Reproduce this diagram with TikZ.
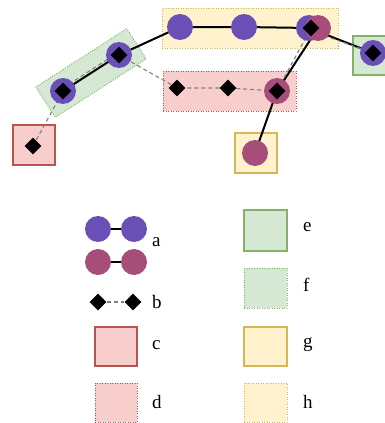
\documentclass[tikz,border=0pt]{standalone}
\usepackage{fontspec}
\setmainfont{Liberation Serif}
\usetikzlibrary{shapes.geometric}
\definecolor{pur}{HTML}{6A50B6}
\definecolor{mag}{HTML}{A64D79}
\definecolor{gfill}{HTML}{D5E8D4}
\definecolor{gline}{HTML}{82B366}
\definecolor{rfill}{HTML}{F8CECC}
\definecolor{rline}{HTML}{B85450}
\definecolor{yfill}{HTML}{FFF2CC}
\definecolor{yline}{HTML}{D6B656}
\pgfdeclarelayer{bg}\pgfdeclarelayer{edges}\pgfsetlayers{bg,edges,main}
\tikzset{
 pc/.style={circle, fill=pur, minimum size=26pt, inner sep=0pt},
 mc/.style={circle, fill=mag, minimum size=26pt, inner sep=0pt},
 dia/.style={diamond, fill=black, minimum size=17pt, inner sep=0pt},
 solidbox/.style={rectangle, line width=1.3pt, inner sep=0pt},
 dotbox/.style={rectangle, line width=1pt, dash pattern=on 1pt off 1.5pt, inner sep=0pt},
 sol/.style={line width=2pt, black},
 dsh/.style={line width=1.1pt, black!50, dash pattern=on 4pt off 3pt},
 lab/.style={font=\fontsize{19}{21}\selectfont, anchor=west, inner sep=0pt}
}
\begin{document}
\begin{tikzpicture}[x=1pt,y=-1pt]
\useasboundingbox (0,0) rectangle (385,423);
\begin{pgfonlayer}{bg}
\node[dotbox, draw=yline, fill=yfill, minimum width=176pt, minimum height=40pt] (hbig) at (250,28) {};
\node[dotbox, draw=rline, fill=rfill, minimum width=133pt, minimum height=40pt] (dbig) at (229.5,91) {};
\node[dotbox, draw=gline, fill=gfill, minimum width=108pt, minimum height=36pt, rotate=32.7] (fbig) at (91,73) {};
\node[solidbox, draw=gline, fill=gfill, minimum width=42pt, minimum height=39pt] (ebig) at (374,55.5) {};
\node[solidbox, draw=rline, fill=rfill, minimum width=42pt, minimum height=40pt] (cbig) at (34,145) {};
\node[solidbox, draw=yline, fill=yfill, minimum width=42pt, minimum height=40pt] (gbig) at (256,153) {};
% legend boxes
\node[solidbox, draw=gline, fill=gfill, minimum width=43pt, minimum height=41pt] (le) at (265.5,230.5) {};
\node[dotbox, draw=gline, fill=gfill, minimum width=43pt, minimum height=40pt] (lf) at (265.5,288) {};
\node[solidbox, draw=yline, fill=yfill, minimum width=43pt, minimum height=39pt] (lg) at (265.5,346.5) {};
\node[dotbox, draw=yline, fill=yfill, minimum width=43pt, minimum height=39pt] (lh) at (265.5,402.5) {};
\node[solidbox, draw=rline, fill=rfill, minimum width=42pt, minimum height=39pt] (lc) at (116,346.5) {};
\node[dotbox, draw=rline, fill=rfill, minimum width=42pt, minimum height=39pt] (ld) at (116,402.5) {};
\end{pgfonlayer}
% circles
\node[pc] (p1) at (63,91) {};
\node[pc] (p2) at (119,55) {};
\node[pc] (p3) at (180,27) {};
\node[pc] (p4) at (244,27) {};
\node[pc] (p5) at (309,28) {};
\node[pc] (p6) at (373,53) {};
\node[mc] (m1) at (318,28) {};
\node[mc] (m2) at (277,91) {};
\node[mc] (m3) at (255,153) {};
% diamonds
\node[dia] (d0) at (33,146) {};
\node[dia] (d1) at (63,91) {};
\node[dia] (d2) at (119,55) {};
\node[dia] (d3) at (177,88) {};
\node[dia] (d4) at (228,88) {};
\node[dia] (d5) at (277,91) {};
\node[dia] (d6) at (311,28) {};
\node[dia] (d7) at (373,53) {};
% legend
\node[pc] (la1) at (98,229) {};
\node[pc] (la2) at (134,229) {};
\node[mc] (la3) at (98,262) {};
\node[mc] (la4) at (134,262) {};
\node[dia] (lb1) at (98,302) {};
\node[dia] (lb2) at (133,302) {};
\node[lab] (ta) at (152,242) {a};
\node[lab] (tb) at (152,302) {b};
\node[lab] (tc) at (152,345) {c};
\node[lab] (td) at (152,402) {d};
\node[lab] (te) at (303,227) {e};
\node[lab] (tf) at (303,285) {f};
\node[lab] (tg) at (303,345) {g};
\node[lab] (th) at (303,402) {h};
\begin{pgfonlayer}{edges}
\draw[sol] (p1.center) -- (p2.center) -- (p3.center) -- (p4.center) -- (p5.center) -- (p6.center);
\draw[sol] (m1.center) -- (m2.center) -- (m3.center);
\draw[dsh] (d0.center) -- (d1.center);
\draw[dsh] ([yshift=3pt]d1.center) -- ([yshift=3pt]d2.center);
\draw[dsh] (d2.center) -- (d3.center) -- (d4.center) -- (d5.center) -- (d6.center);
\draw[dsh] ([yshift=-3pt]d6.center) -- (d7.center);
\draw[sol] (la1) -- (la2);
\draw[sol] (la3) -- (la4);
\draw[dsh] (lb1) -- (lb2);
\end{pgfonlayer}
\end{tikzpicture}
\end{document}
